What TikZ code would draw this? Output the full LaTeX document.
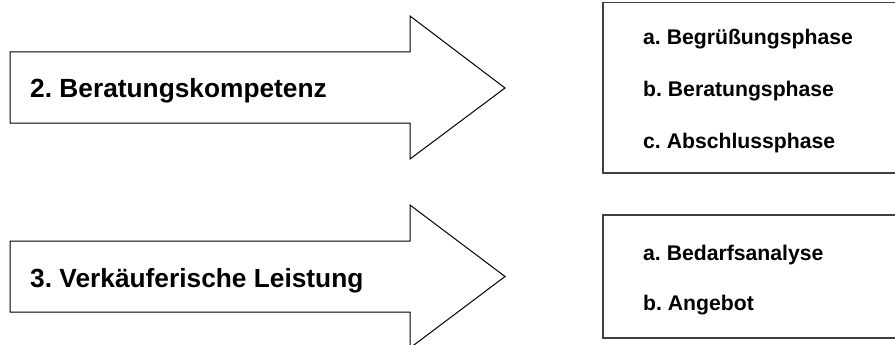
\documentclass[tikz,border=0pt]{standalone}
\usepackage{fontspec}
\setmainfont{Liberation Sans}
\frenchspacing
\begin{document}
\begin{tikzpicture}[x=1pt,y=-1pt,
  arrowshape/.style={draw=black,line width=1pt,fill=white,line join=miter},
  listbox/.style={draw=black!75,line width=1.4pt,fill=white},
  bigtext/.style={font=\bfseries\fontsize{26.3}{30}\selectfont,anchor=base west,inner sep=0pt},
  smalltext/.style={font=\bfseries\fontsize{21.2}{24}\selectfont,anchor=base west,inner sep=0pt}]
\clip (0,0) rectangle (895,345);
\useasboundingbox (0,0) rectangle (895,345);
% arrow 1
\draw[arrowshape] (10,52) -- (410,52) -- (410,16) -- (505,88) -- (410,159) -- (410,123) -- (10,123) -- cycle;
\node[bigtext] (t2) at (30,98) {2. Beratungskompetenz};
% arrow 2
\draw[arrowshape] (10,241) -- (410,241) -- (410,205) -- (505,276.5) -- (410,348) -- (410,312) -- (10,312) -- cycle;
\node[bigtext] (t3) at (30,287) {3. Verkäuferische Leistung};
% box 1
\draw[listbox] (603,2.5) rectangle (905,173);
\node[smalltext] (a1) at (643,45) {a. Begrüßungsphase};
\node[smalltext] (b1) at (643,97) {b. Beratungsphase};
\node[smalltext] (c1) at (643,148) {c. Abschlussphase};
% box 2
\draw[listbox] (603,215) rectangle (905,338);
\node[smalltext] (a2) at (643,260) {a. Bedarfsanalyse};
\node[smalltext] (b2) at (643,310) {b. Angebot};
\end{tikzpicture}
\end{document}
